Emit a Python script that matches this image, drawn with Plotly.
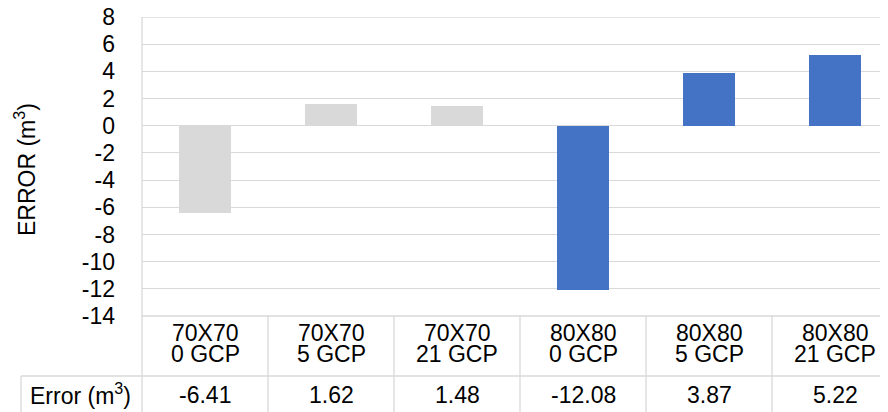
import plotly.graph_objects as go

# ---- data ----
categories_top = ["70X70", "70X70", "70X70", "80X80", "80X80", "80X80"]
categories_bottom = ["0 GCP", "5 GCP", "21 GCP", "0 GCP", "5 GCP", "21 GCP"]
error_values = [-6.41, 1.62, 1.48, -12.08, 3.87, 5.22]
value_labels = ["-6.41", "1.62", "1.48", "-12.08", "3.87", "5.22"]
bar_colors = ["#d9d9d9", "#d9d9d9", "#d9d9d9", "#4472c4", "#4472c4", "#4472c4"]
y_ticks = list(range(-14, 9, 2))

# ---- layout constants (page pixels; page body has an 8px margin) ----
OFF = 8
PAGE_W, PAGE_H = 888, 412
W, H = PAGE_W - OFF, PAGE_H - OFF
PLOT_L, PLOT_T, PLOT_B = 142, 17, 316   # page coords
L = PLOT_L - OFF
T = PLOT_T - OFF
B = PAGE_H - PLOT_B
R = 0
PW = W - L - R
PH = H - T - B
COL = 126.0  # px per category
FONT = "Liberation Sans, Arial, sans-serif"
FS = 23
GRID = "#d9d9d9"

def px_x(px):
    return (px - PLOT_L) / PW

def px_y(py):
    return (PLOT_B - py) / PH

x_idx = list(range(len(error_values)))

fig = go.Figure()
fig.add_trace(go.Bar(
    x=x_idx, y=error_values, width=0.405,
    marker=dict(color=bar_colors, line=dict(width=0)),
    hoverinfo="skip", showlegend=False,
))

shapes = []
lw = 1.3
# top gridline (y = 8)
shapes.append(dict(type="line", xref="paper", yref="y",
                   x0=0, x1=1, y0=y_ticks[-1], y1=y_ticks[-1], layer="below",
                   line=dict(color=GRID, width=lw)))
# left vertical line (axis + table)
shapes.append(dict(type="line", xref="paper", yref="paper",
                   x0=0, x1=0, y0=px_y(413), y1=1,
                   line=dict(color=GRID, width=lw)))
# table top line (bottom of plot)
shapes.append(dict(type="line", xref="paper", yref="paper",
                   x0=0, x1=1, y0=0, y1=0,
                   line=dict(color=GRID, width=lw)))
# row separator
shapes.append(dict(type="line", xref="paper", yref="paper",
                   x0=px_x(21), x1=1, y0=px_y(376), y1=px_y(376),
                   line=dict(color=GRID, width=lw)))
# left border of header cell
shapes.append(dict(type="line", xref="paper", yref="paper",
                   x0=px_x(21), x1=px_x(21), y0=px_y(413), y1=px_y(376),
                   line=dict(color=GRID, width=lw)))
# column separators
for k in range(len(error_values) - 1):
    shapes.append(dict(type="line", xref="x", yref="paper",
                       x0=k + 0.5, x1=k + 0.5, y0=px_y(413), y1=0,
                       line=dict(color=GRID, width=lw)))

annotations = []
for i in x_idx:
    annotations.append(dict(x=i, xref="x", yref="paper", y=px_y(332.5),
                            text=categories_top[i], showarrow=False,
                            xanchor="center", yanchor="middle",
                            font=dict(family=FONT, size=FS, color="#000")))
    annotations.append(dict(x=i, xref="x", yref="paper", y=px_y(354),
                            text=categories_bottom[i], showarrow=False,
                            xanchor="center", yanchor="middle",
                            font=dict(family=FONT, size=FS, color="#000")))
    annotations.append(dict(x=i, xref="x", yref="paper", y=px_y(395),
                            text=value_labels[i], showarrow=False,
                            xanchor="center", yanchor="middle",
                            font=dict(family=FONT, size=FS, color="#000")))
annotations.append(dict(x=px_x(80), xref="paper", yref="paper", y=px_y(394),
                        text="Error (m<sup>3</sup>)", showarrow=False,
                        xanchor="center", yanchor="middle",
                        font=dict(family=FONT, size=FS, color="#000")))
annotations.append(dict(x=px_x(25), xref="paper", yref="paper", y=px_y(170),
                        text="ERROR (m<sup>3</sup>)", showarrow=False, textangle=-90,
                        xanchor="center", yanchor="middle",
                        font=dict(family=FONT, size=FS, color="#000")))

fig.update_layout(
    width=W, height=H, autosize=False,
    margin=dict(l=L, r=R, t=T, b=B, pad=0, autoexpand=False),
    paper_bgcolor="white", plot_bgcolor="white",
    font=dict(family=FONT, size=FS, color="#000"),
    xaxis=dict(range=[-0.5, -0.5 + PW / COL], showticklabels=False, automargin=False,
               showgrid=False, zeroline=False, showline=False, fixedrange=True),
    yaxis=dict(range=[-14, 8.0005], tickvals=y_ticks, ticktext=[str(v) for v in y_ticks],
               automargin=False,
               showgrid=True, gridcolor=GRID, gridwidth=lw,
               zeroline=True, zerolinecolor=GRID, zerolinewidth=lw,
               showline=False, ticks="", ticklabelstandoff=26,
               ticklabeloverflow="allow",
               tickfont=dict(family=FONT, size=FS, color="#000"), fixedrange=True),
    shapes=shapes, annotations=annotations,
    bargap=0,
)

fig.write_html("out.html", config={"displayModeBar": False})
